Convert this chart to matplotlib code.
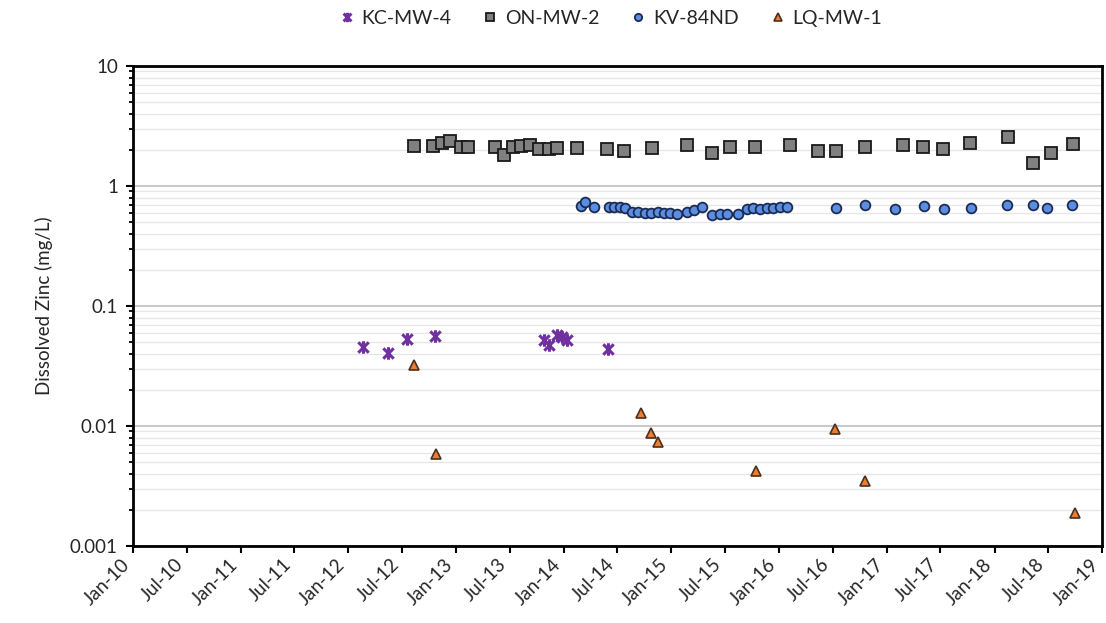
"""Dissolved zinc time series at four monitoring wells (log scale)."""
import numpy as np
import pandas as pd
import matplotlib
matplotlib.use("Agg")
import matplotlib.pyplot as plt
import matplotlib.dates as mdates
import matplotlib.transforms as mtransforms
from matplotlib.path import Path
from matplotlib.ticker import LogLocator, FuncFormatter, NullFormatter

plt.rcParams.update({"font.family": ["Lato", "DejaVu Sans"], "font.size": 13})

# --- data ---
kc_dates = ["2012-02-21", "2012-05-13", "2012-07-16", "2012-10-19", "2013-10-27",
            "2013-11-13", "2013-12-07", "2013-12-24", "2014-01-13", "2014-06-01"]
kc_zn = [0.0455, 0.0406, 0.053, 0.056, 0.052, 0.047, 0.057, 0.055, 0.052, 0.044]

on_dates = ["2012-08-10", "2012-10-14", "2012-11-15", "2012-12-09", "2013-01-16",
            "2013-02-09", "2013-05-11", "2013-06-11", "2013-07-13", "2013-08-09",
            "2013-09-07", "2013-10-08", "2013-11-11", "2013-12-09", "2014-02-15",
            "2014-05-27", "2014-07-23", "2014-10-27", "2015-02-24", "2015-05-18",
            "2015-07-19", "2015-10-11", "2016-02-07", "2016-05-13", "2016-07-12",
            "2016-10-18", "2017-02-26", "2017-05-02", "2017-07-11", "2017-10-10",
            "2018-02-16", "2018-05-12", "2018-07-10", "2018-09-24"]
on_zn = [2.15, 2.15, 2.27, 2.39, 2.13, 2.13, 2.10, 1.81, 2.13, 2.15,
         2.20, 2.02, 2.02, 2.06, 2.06, 2.02, 1.97, 2.06, 2.20, 1.90,
         2.13, 2.13, 2.20, 1.97, 1.97, 2.10, 2.20, 2.10, 2.02, 2.30,
         2.58, 1.55, 1.90, 2.24]

kv_dates = ["2014-02-28", "2014-03-15", "2014-04-12", "2014-06-02", "2014-06-19",
            "2014-07-09", "2014-07-28", "2014-08-20", "2014-09-11", "2014-10-04",
            "2014-10-23", "2014-11-15", "2014-12-05", "2014-12-28", "2015-01-19",
            "2015-02-22", "2015-03-17", "2015-04-14", "2015-05-18", "2015-06-13",
            "2015-07-08", "2015-08-16", "2015-09-13", "2015-10-06", "2015-10-28",
            "2015-11-20", "2015-12-12", "2016-01-04", "2016-01-27", "2016-07-12",
            "2016-10-18", "2017-01-28", "2017-05-07", "2017-07-14", "2017-10-12",
            "2018-02-11", "2018-05-10", "2018-06-28", "2018-09-22"]
kv_zn = [0.68, 0.73, 0.67, 0.67, 0.67, 0.67, 0.66, 0.61, 0.61, 0.60,
         0.60, 0.61, 0.60, 0.59, 0.585, 0.61, 0.63, 0.67, 0.575, 0.585,
         0.585, 0.585, 0.64, 0.65, 0.64, 0.65, 0.65, 0.67, 0.67, 0.66,
         0.70, 0.64, 0.68, 0.64, 0.66, 0.70, 0.70, 0.66, 0.70]

lq_dates = ["2012-08-12", "2012-10-23", "2014-09-20", "2014-10-24", "2014-11-17",
            "2015-10-15", "2016-07-09", "2016-10-18", "2018-09-30"]
lq_zn = [0.032, 0.0058, 0.0128, 0.0087, 0.0074, 0.0042, 0.0094, 0.0035, 0.0019]

# Excel-style star: X plus a vertical bar
STAR = Path([(-1, -1), (1, 1), (-1, 1), (1, -1), (0, -1.2), (0, 1.2)],
            [Path.MOVETO, Path.LINETO, Path.MOVETO, Path.LINETO, Path.MOVETO, Path.LINETO])

fig = plt.figure(figsize=(11.06, 6.23), dpi=100)
ax = fig.add_axes([0.1205, 0.1236, 0.876, 0.7705])

d = lambda s: pd.to_datetime(s)
ax.plot(d(kc_dates), kc_zn, ls="none", marker=STAR, ms=9, mew=2.2,
        color="#7030A0", label="KC-MW-4", zorder=5)
ax.plot(d(on_dates), on_zn, ls="none", marker="s", ms=8, mfc="#808080",
        mec="#1a1a1a", mew=1.3, label="ON-MW-2", zorder=4)
ax.plot(d(kv_dates), kv_zn, ls="none", marker="o", ms=7, mfc="#5b8ee0",
        mec="#1c2b55", mew=1.3, label="KV-84ND", zorder=4)
ax.plot(d(lq_dates), lq_zn, ls="none", marker="^", ms=7.5, mfc="#ED7D31",
        mec="#4a3020", mew=1.2, label="LQ-MW-1", zorder=4)

ax.set_yscale("log")
ax.set_ylim(0.001, 10)
ax.set_xlim(pd.Timestamp("2010-01-01"), pd.Timestamp("2019-01-01"))
ax.yaxis.set_major_locator(LogLocator(base=10, numticks=10))
ax.yaxis.set_minor_locator(LogLocator(base=10, subs=np.arange(2, 10), numticks=20))
ax.yaxis.set_major_formatter(FuncFormatter(lambda v, p: f"{v:g}"))
ax.yaxis.set_minor_formatter(NullFormatter())
ax.xaxis.set_major_locator(mdates.MonthLocator(bymonth=[1, 7]))
ax.xaxis.set_major_formatter(mdates.DateFormatter("%b-%y"))

ax.grid(True, which="major", axis="y", color="#c4c4c4", lw=1.3)
ax.grid(True, which="minor", axis="y", color="#e6e6e6", lw=0.9)
ax.set_axisbelow(True)

for sp in ax.spines.values():
    sp.set_linewidth(2.0)
    sp.set_color("black")
ax.tick_params(axis="both", which="major", direction="out", length=5, width=1.5,
               labelsize=13.5, color="black", labelcolor="#262626")
ax.tick_params(axis="y", which="minor", direction="out", length=3, width=1.3)
ax.tick_params(axis="y", pad=6)
shift = mtransforms.ScaledTranslation(-6 / 100, -4 / 100, fig.dpi_scale_trans)
for lab in ax.get_xticklabels():
    lab.set_rotation(45)
    lab.set_ha("right")
    lab.set_va("center")
    lab.set_rotation_mode("anchor")
    lab.set_transform(lab.get_transform() + shift)

ax.set_ylabel("Dissolved Zinc (mg/L)", fontsize=13.5, labelpad=12, color="#262626")

fig.legend(loc="center", bbox_to_anchor=(0.552, 0.971), ncol=4, frameon=False,
           fontsize=14, handlelength=0.8, handletextpad=0.35, columnspacing=1.6,
           markerscale=0.75, labelcolor="#262626")

fig.savefig("out.png", dpi=100)
